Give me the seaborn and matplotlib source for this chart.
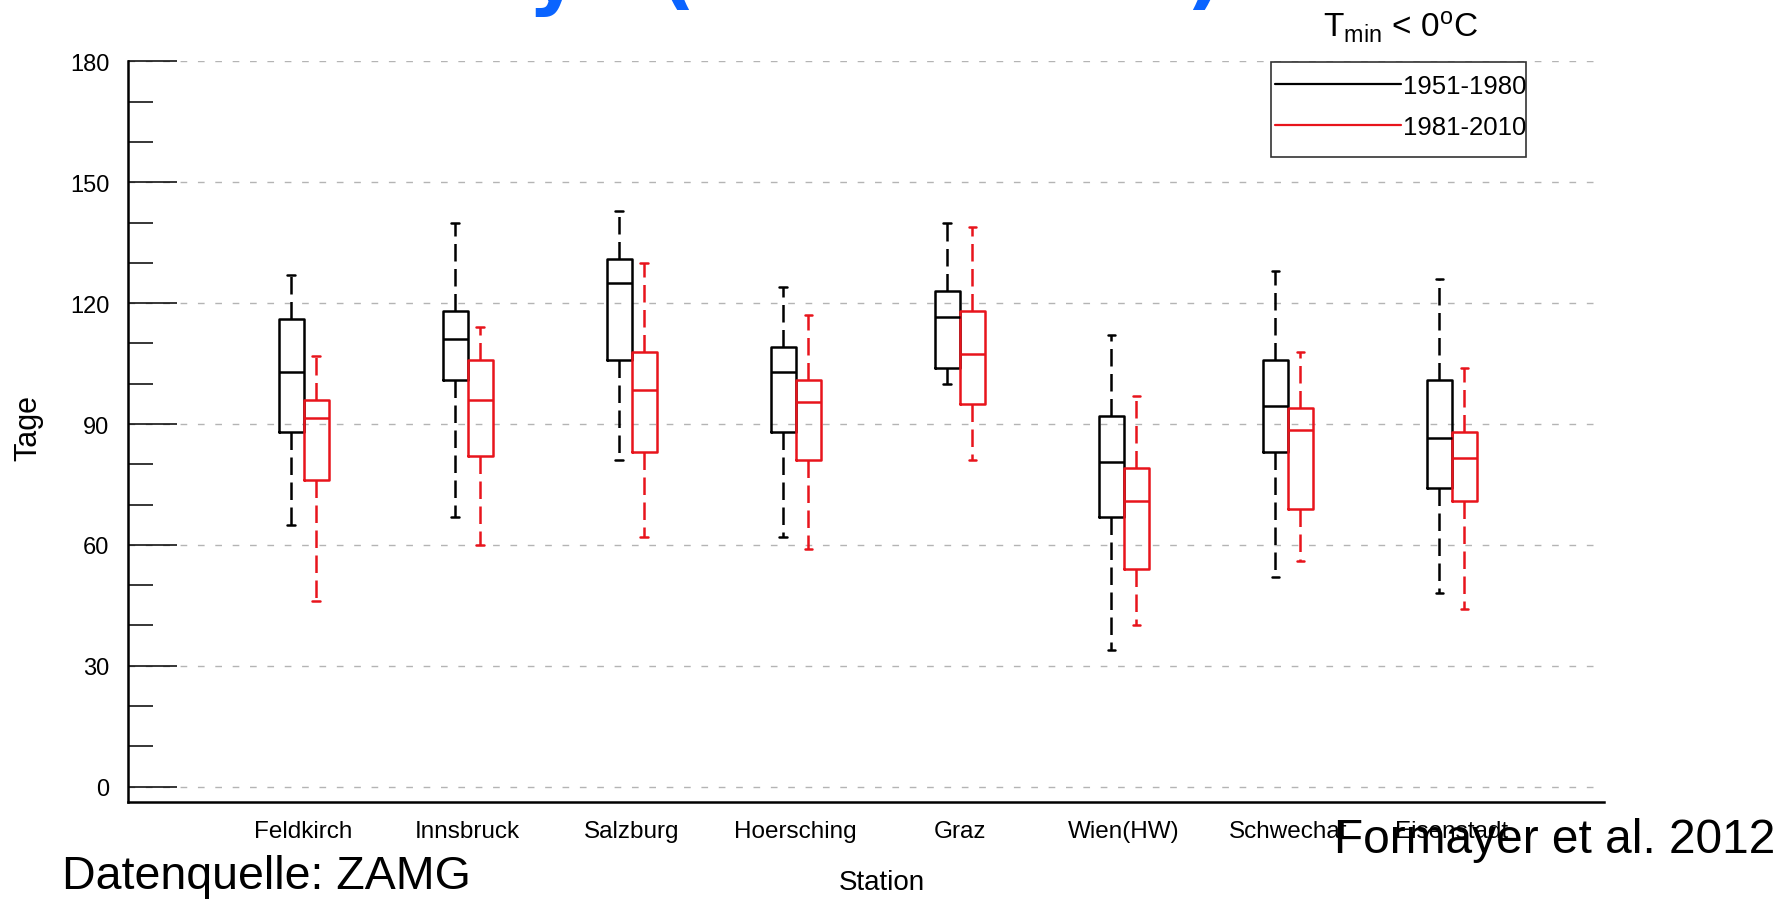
import numpy as np
import pandas as pd
import matplotlib
matplotlib.use("Agg")
import matplotlib.pyplot as plt
from matplotlib.lines import Line2D
from matplotlib.patches import Rectangle
from matplotlib.ticker import MultipleLocator
import seaborn as sns

# ---------------- data ----------------
stations = ["Feldkirch", "Innsbruck", "Salzburg", "Hoersching", "Graz",
            "Wien(HW)", "Schwechat", "Eisenstadt"]
periods = ["1951-1980", "1981-2010"]

# five-number summaries: whisker low, Q1, median, Q3, whisker high (days)
lo_1951 = [65, 67, 81, 62, 100, 34, 52, 48]
q1_1951 = [88, 101, 106, 88, 104, 67, 83, 74]
med_1951 = [103, 111, 125, 103, 116.5, 80.5, 94.5, 86.5]
q3_1951 = [116, 118, 131, 109, 123, 92, 106, 101]
hi_1951 = [127, 140, 143, 124, 140, 112, 128, 126]

lo_1981 = [46, 60, 62, 59, 81, 40, 56, 44]
q1_1981 = [76, 82, 83, 81, 95, 54, 69, 71]
med_1981 = [91.5, 96, 98.5, 95.5, 107.5, 71, 88.5, 81.5]
q3_1981 = [96, 106, 108, 101, 118, 79, 94, 88]
hi_1981 = [107, 114, 130, 117, 139, 97, 108, 104]

yticks = [0, 30, 60, 90, 120, 150, 180]

summaries = {
    "1951-1980": (lo_1951, q1_1951, med_1951, q3_1951, hi_1951),
    "1981-2010": (lo_1981, q1_1981, med_1981, q3_1981, hi_1981),
}
rows = []
for period in periods:
    cols = summaries[period]
    for i, st in enumerate(stations):
        for arr in cols:
            rows.append({"Station": st, "Periode": period, "Tage": arr[i]})
df = pd.DataFrame(rows)

# ---------------- styling ----------------
sns.set_style("ticks")
plt.rcParams["font.family"] = ["Liberation Sans", "DejaVu Sans"]
plt.rcParams["mathtext.default"] = "regular"
for k in ["text.color", "axes.labelcolor", "xtick.color", "ytick.color",
          "axes.edgecolor"]:
    plt.rcParams[k] = "black"

RED = "#e8141c"
palette = {"1951-1980": "black", "1981-2010": RED}

fig = plt.figure(figsize=(17.76, 9.03), dpi=100)
ax = fig.add_axes([0.0718, 0.1107, 0.8314, 0.8201])

sns.boxplot(data=df, x="Station", y="Tage", hue="Periode",
            order=stations, hue_order=periods, palette=palette,
            fill=False, width=0.305, gap=0, whis=(0, 100), dodge=True,
            linewidth=1.8, showfliers=False, legend=False, ax=ax,
            whiskerprops=dict(linestyle=(0, (7, 3))),
            capwidths=0.045)

ax.set_xlim(-1.074, 7.929)
ax.set_ylim(-3.85, 180)

for s in ["top", "right"]:
    ax.spines[s].set_visible(False)
for s in ["left", "bottom"]:
    ax.spines[s].set_linewidth(1.8)
    ax.spines[s].set_color("black")

ax.set_yticks(yticks)
ax.yaxis.set_minor_locator(MultipleLocator(10))
ax.tick_params(axis="y", which="major", direction="in", length=35, width=1.1,
               pad=13, labelsize=17, color="black")
ax.tick_params(axis="y", which="minor", direction="in", length=18, width=1.1,
               color="black")
ax.tick_params(axis="x", length=0, pad=13, labelsize=17.5)

ax.set_axisbelow(True)
ax.xaxis.grid(False)
ax.yaxis.grid(True, which="major", color="#b4b4b4",
              linestyle=(0, (4.8, 7.7)), linewidth=1.0)

ax.set_ylabel("Tage", fontsize=22)
ax.yaxis.set_label_coords(-0.057, 0.507)
ax.set_xlabel("Station", fontsize=20)
ax.xaxis.set_label_coords(0.511, -0.09)

# legend: manual frame + frameless legend
fig.patches.append(Rectangle((1271 / 1776, 1 - 158 / 903),
                             (1526 - 1271) / 1776, (158 - 63) / 903,
                             transform=fig.transFigure, facecolor="white",
                             edgecolor="#333333", linewidth=1.2, zorder=3))
handles = [Line2D([], [], color=palette[p], lw=1.6) for p in periods]
leg = fig.legend(handles, periods, loc="upper left",
                 bbox_to_anchor=(1275 / 1776, 1 - 75 / 903),
                 frameon=False, fontsize=18.5, handlelength=4.9,
                 handletextpad=0.1, borderpad=0, labelspacing=0.66,
                 borderaxespad=0)
leg.set_zorder(5)

fig.text(1400 / 1776, 1 - 37.7 / 903, r"$\mathregular{T_{min}}$ < 0$\mathregular{^{o}}$C",
         ha="center", va="baseline", fontsize=24)

# slide title (only the descenders reach into the picture)
fig.text(152 / 1776, 1 + 0.5 / 903, "Frost days (1951-2010)", color="#0a64ff",
         fontsize=59, fontweight="bold", family="DejaVu Sans",
         ha="left", va="baseline")

fig.text(62 / 1776, 1 - 889 / 903, "Datenquelle: ZAMG", fontsize=33.5,
         ha="left", va="baseline")
fig.text(1775 / 1776, 1 - 853 / 903, "Formayer et al. 2012", fontsize=34.5,
         ha="right", va="baseline")

fig.savefig("out.png", dpi=100, facecolor="white")
